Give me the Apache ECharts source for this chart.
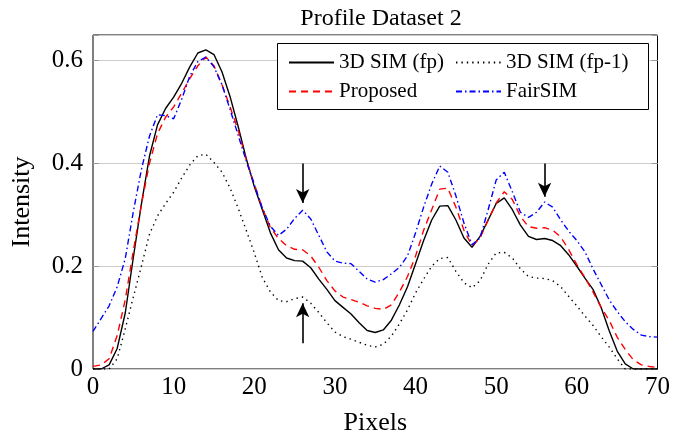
<!DOCTYPE html>
<html><head><meta charset="utf-8">
<script src="https://cdn.jsdelivr.net/npm/echarts@6/dist/echarts.min.js"></script>
<style>html,body{margin:0;padding:0;background:#fff}#c{width:673px;height:441px}</style>
</head><body><div id="c"></div>
<script>
const pixels = [0,1,2,3,4,5,6,7,8,9,10,11,12,13,14,15,16,17,18,19,20,21,22,23,24,25,26,27,28,29,30,31,32,33,34,35,36,37,38,39,40,41,42,43,44,45,46,47,48,49,50,51,52,53,54,55,56,57,58,59,60,61,62,63,64,65,66,67,68,69,70];
const simFp = [0,0,0.008,0.04,0.109,0.217,0.321,0.414,0.475,0.507,0.529,0.556,0.588,0.615,0.621,0.612,0.578,0.53,0.472,0.41,0.355,0.31,0.265,0.232,0.216,0.211,0.21,0.197,0.175,0.155,0.133,0.12,0.107,0.09,0.075,0.071,0.076,0.095,0.125,0.16,0.205,0.25,0.29,0.317,0.318,0.29,0.255,0.237,0.258,0.29,0.322,0.333,0.31,0.28,0.258,0.252,0.254,0.25,0.24,0.222,0.2,0.177,0.155,0.12,0.075,0.035,0.01,0,0,0,0];
const simFp1 = [0,0,0,0.02,0.078,0.14,0.2,0.262,0.298,0.322,0.344,0.372,0.397,0.415,0.418,0.402,0.383,0.352,0.313,0.27,0.226,0.178,0.15,0.133,0.131,0.137,0.14,0.128,0.11,0.09,0.072,0.063,0.058,0.052,0.046,0.043,0.048,0.064,0.088,0.115,0.148,0.175,0.2,0.215,0.217,0.19,0.168,0.158,0.172,0.204,0.226,0.227,0.216,0.195,0.18,0.177,0.176,0.172,0.16,0.141,0.123,0.103,0.085,0.063,0.043,0.02,0,0,0,0,0];
const proposed = [0.005,0.008,0.02,0.065,0.135,0.23,0.32,0.4,0.458,0.49,0.51,0.537,0.565,0.59,0.607,0.59,0.553,0.51,0.465,0.407,0.36,0.313,0.275,0.254,0.24,0.233,0.232,0.22,0.198,0.172,0.152,0.14,0.135,0.13,0.123,0.118,0.116,0.125,0.15,0.18,0.22,0.27,0.31,0.35,0.352,0.315,0.27,0.24,0.255,0.29,0.323,0.345,0.33,0.297,0.277,0.274,0.275,0.27,0.257,0.232,0.203,0.178,0.15,0.12,0.095,0.062,0.038,0.018,0.008,0.005,0.003];
const fairSim = [0.073,0.098,0.123,0.16,0.215,0.306,0.388,0.453,0.495,0.493,0.487,0.525,0.57,0.598,0.607,0.588,0.553,0.505,0.455,0.405,0.359,0.313,0.278,0.26,0.272,0.293,0.309,0.292,0.26,0.228,0.21,0.206,0.205,0.19,0.175,0.169,0.174,0.185,0.198,0.22,0.265,0.315,0.36,0.395,0.383,0.337,0.284,0.242,0.255,0.31,0.368,0.383,0.345,0.305,0.295,0.305,0.325,0.315,0.29,0.268,0.25,0.228,0.195,0.165,0.135,0.112,0.092,0.077,0.066,0.063,0.062];
const yTicks = [0, 0.2, 0.4, 0.6];
const arrowX = [26, 26, 56];
const arrowFrom = [0.4, 0.05, 0.4];
const arrowTo = [0.323, 0.128, 0.335];
const seriesNames = ['3D SIM (fp)', '3D SIM (fp-1)', 'Proposed', 'FairSIM'];

const FONT = 'Liberation Serif';
function pairs(v){ return pixels.map((x,i)=>[x, v[i]]); }

const chart = echarts.init(document.getElementById('c'), null, {renderer:'canvas'});
const yLabel = v => {
  for (const t of yTicks) if (Math.abs(v - t) < 1e-6) return t === 0 ? '0' : String(t);
  return '';
};
const arrowLines = arrowX.map((x,i)=>[{coord:[x, arrowFrom[i]]},{coord:[x, arrowTo[i]]}]);
const legendCommon = {orient:'vertical', top:52, padding:0, itemGap:8,
  itemWidth:45, itemHeight:20, z:6, selectedMode:false,
  itemStyle:{opacity:0},
  textStyle:{fontFamily:FONT, fontSize:21, color:'#000', lineHeight:20}};

chart.setOption({
  animation: false,
  title: {text:'Profile Dataset 2', left: 376, top: 1, textAlign:'center',
    textStyle:{fontFamily:FONT, fontSize:24, fontWeight:'normal', color:'#000', lineHeight:25}},
  grid: {left:93, right:14, top:35, bottom:72, show:true, borderColor:'#000', borderWidth:1, backgroundColor:'transparent'},
  graphic: [{type:'rect', left:277, top:43, shape:{width:371, height:66}, style:{fill:'#fff', stroke:'#000', lineWidth:1}, z:5}],
  legend: [
    Object.assign({data:[seriesNames[0], seriesNames[2]], left:288}, legendCommon),
    Object.assign({data:[seriesNames[1], seriesNames[3]], left:455}, legendCommon)
  ],
  xAxis: {type:'value', min:0, max:70, interval:10, name:'Pixels', nameLocation:'middle', nameGap:41,
    nameTextStyle:{fontFamily:FONT, fontSize:26, color:'#000'},
    axisLine:{show:false}, axisTick:{show:false}, splitLine:{show:false},
    axisLabel:{fontFamily:FONT, fontSize:25, color:'#000', margin:6}},
  yAxis: [
    {type:'value', min:0, max:0.65, interval:0.2, name:'Intensity', nameLocation:'middle', nameGap:58,
     nameTextStyle:{fontFamily:FONT, fontSize:26, color:'#000'},
     axisLine:{show:false}, axisTick:{show:true, inside:true, length:6, lineStyle:{color:'#999'}},
     splitLine:{show:true, lineStyle:{color:'#cccccc', width:1}},
     axisLabel:{fontFamily:FONT, fontSize:25, color:'#000', margin:10, formatter:yLabel}},
    {type:'value', min:0, max:0.65, interval:0.2, position:'right',
     axisLine:{show:false}, axisTick:{show:true, inside:true, length:6, lineStyle:{color:'#999'}},
     splitLine:{show:false}, axisLabel:{show:false}}
  ],
  series: [
    {name:seriesNames[0], type:'line', data:pairs(simFp), showSymbol:false, symbol:'none', z:3,
     lineStyle:{color:'#000', width:1.4, type:'solid'}, itemStyle:{color:'#000'},
     markLine:{silent:true, symbol:['none','arrow'], symbolSize:[10,14], label:{show:false},
       lineStyle:{color:'#000', width:1.6, type:'solid'}, data:arrowLines, animation:false}},
    {name:seriesNames[1], type:'line', data:pairs(simFp1), showSymbol:false, symbol:'none', z:3,
     lineStyle:{color:'#000', width:1.4, type:[1.4,4], cap:'butt'}, itemStyle:{color:'#000'}},
    {name:seriesNames[2], type:'line', data:pairs(proposed), showSymbol:false, symbol:'none', z:3,
     lineStyle:{color:'#ff0000', width:1.4, type:[7,5]}, itemStyle:{color:'#ff0000'}},
    {name:seriesNames[3], type:'line', data:pairs(fairSim), showSymbol:false, symbol:'none', z:3,
     lineStyle:{color:'#0000ff', width:1.4, type:[6,3,1.5,3]}, itemStyle:{color:'#0000ff'}}
  ]
});
</script></body></html>
